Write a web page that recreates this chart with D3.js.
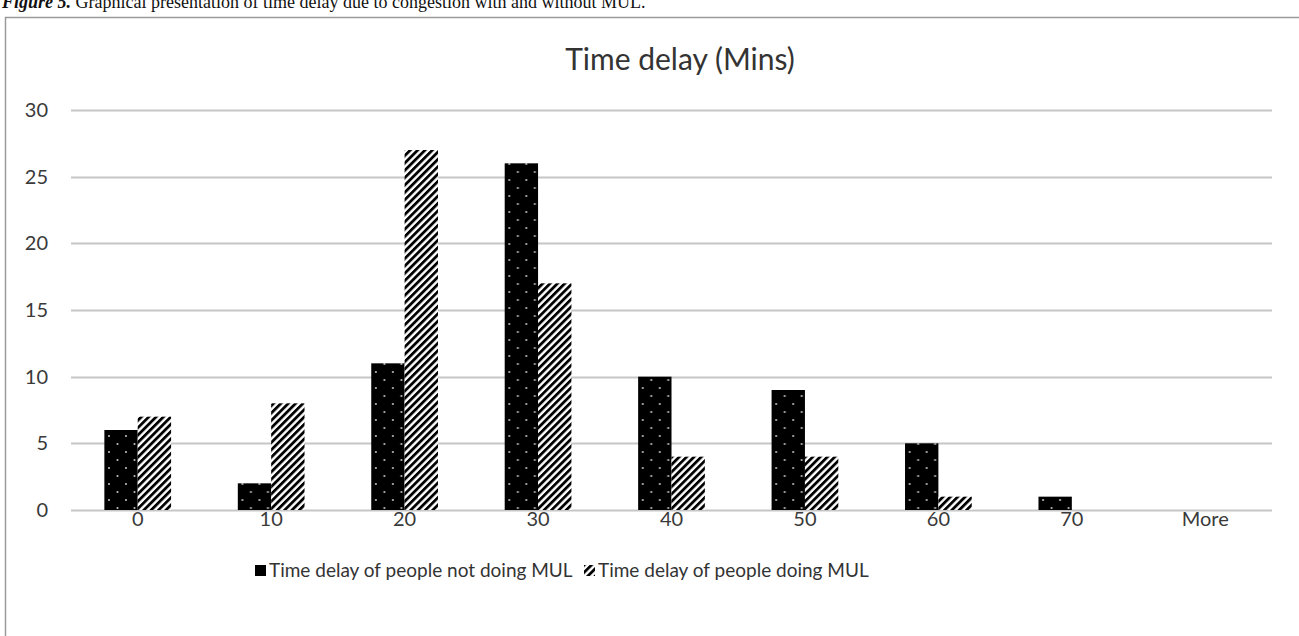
<!DOCTYPE html>
<html>
<head>
<meta charset="utf-8">
<script src="https://cdn.jsdelivr.net/npm/d3@7"></script>
<style>
  html, body { margin: 0; padding: 0; background: #fff; }
  svg { display: block; }
</style>
</head>
<body>
<svg id="chart" width="1299" height="636"></svg>
<script>
// Histogram bins (minutes) and counts for the two groups
const categories = ["0", "10", "20", "30", "40", "50", "60", "70", "More"];
const notDoingMUL = [6, 2, 11, 26, 10, 9, 5, 1, 0];
const doingMUL = [7, 8, 27, 17, 4, 4, 1, 0, 0];
const yTicks = [0, 5, 10, 15, 20, 25, 30];
const seriesNames = ["Time delay of people not doing MUL", "Time delay of people doing MUL"];

const svg = d3.select("#chart");
const font = "Lato, 'Open Sans', sans-serif";

// Caption above the chart frame (partly clipped at the page top)
const cap = svg.append("text")
  .attr("x", 2).attr("y", 8)
  .attr("font-family", "'Liberation Serif', 'Times New Roman', serif")
  .attr("font-size", 18).attr("fill", "#111");
cap.append("tspan").attr("font-weight", "bold").attr("font-style", "italic").text("Figure 5.");
cap.append("tspan").text(" Graphical presentation of time delay due to congestion with and without MUL.");

// Chart frame
svg.append("path")
  .attr("d", "M5.5,640 V17.5 H1299")
  .attr("fill", "none").attr("stroke", "#9a9a9a").attr("stroke-width", 1.5);

// Fill patterns
const defs = svg.append("defs");
const dots = defs.append("pattern")
  .attr("id", "dots").attr("patternUnits", "userSpaceOnUse")
  .attr("width", 17).attr("height", 16);
dots.append("rect").attr("width", 17).attr("height", 16).attr("fill", "#000");
dots.append("circle").attr("cx", 4).attr("cy", 4).attr("r", 1.1).attr("fill", "#bbb");
dots.append("circle").attr("cx", 12.5).attr("cy", 12).attr("r", 1.1).attr("fill", "#bbb");

const hatch = defs.append("pattern")
  .attr("id", "hatch").attr("patternUnits", "userSpaceOnUse")
  .attr("width", 5.2).attr("height", 5.2)
  .attr("patternTransform", "rotate(45)");
hatch.append("rect").attr("width", 5.2).attr("height", 5.2).attr("fill", "#fff");
hatch.append("rect").attr("width", 2.8).attr("height", 5.2).attr("fill", "#000");

// Plot area
const plotLeft = 71, plotRight = 1272, plotTop = 110, plotBottom = 510;

const x = d3.scaleBand().domain(categories).range([plotLeft, plotRight]).paddingInner(0).paddingOuter(0);
const x1 = d3.scaleBand().domain([0, 1]).range([0, x.bandwidth()]).paddingInner(0).paddingOuter(1);
const y = d3.scaleLinear().domain([0, 30]).range([plotBottom, plotTop]);

// Title
svg.append("text")
  .attr("x", 680).attr("y", 70)
  .attr("text-anchor", "middle")
  .attr("font-family", font).attr("font-size", 30).attr("fill", "#333")
  .text("Time delay (Mins)");

// Gridlines
svg.append("g").selectAll("line").data(yTicks).join("line")
  .attr("x1", plotLeft).attr("x2", plotRight)
  .attr("y1", d => Math.round(y(d)) + 0.5).attr("y2", d => Math.round(y(d)) + 0.5)
  .attr("stroke", "#c6c6c6").attr("stroke-width", 2);

// Y axis labels
const yAxis = svg.append("g")
  .attr("transform", `translate(${plotLeft},0)`)
  .call(d3.axisLeft(y).tickValues(yTicks).tickSize(0).tickPadding(23));
yAxis.select(".domain").remove();
yAxis.selectAll("text")
  .attr("font-family", font).attr("font-size", 20).attr("fill", "#3a3a3a");

// X axis labels
const xAxis = svg.append("g")
  .attr("transform", `translate(0,${plotBottom})`)
  .call(d3.axisBottom(x).tickSize(0).tickPadding(2));
xAxis.select(".domain").remove();
xAxis.selectAll("text")
  .attr("font-family", font).attr("font-size", 20).attr("fill", "#3a3a3a");

// Bars
const rows = categories.map((c, i) => ({ c, v: [notDoingMUL[i], doingMUL[i]] }));
const groups = svg.append("g").selectAll("g").data(rows).join("g")
  .attr("transform", d => `translate(${x(d.c)},0)`);
groups.selectAll("rect")
  .data(d => d.v.map((v, k) => ({ v, k })).filter(e => e.v > 0))
  .join("rect")
  .attr("x", d => x1(d.k))
  .attr("width", x1.bandwidth())
  .attr("y", d => y(d.v))
  .attr("height", d => y(0) - y(d.v))
  .attr("fill", d => d.k === 0 ? "url(#dots)" : "url(#hatch)");

// Legend
const legend = svg.append("g").attr("font-family", font).attr("font-size", 19).attr("fill", "#333");
const legendX = [255, 584];
seriesNames.forEach((name, k) => {
  legend.append("rect")
    .attr("x", legendX[k]).attr("y", 565).attr("width", 11).attr("height", 11)
    .attr("fill", k === 0 ? "url(#dots)" : "url(#hatch)");
  legend.append("text")
    .attr("x", legendX[k] + 14).attr("y", 577)
    .text(name);
});
</script>
</body>
</html>
